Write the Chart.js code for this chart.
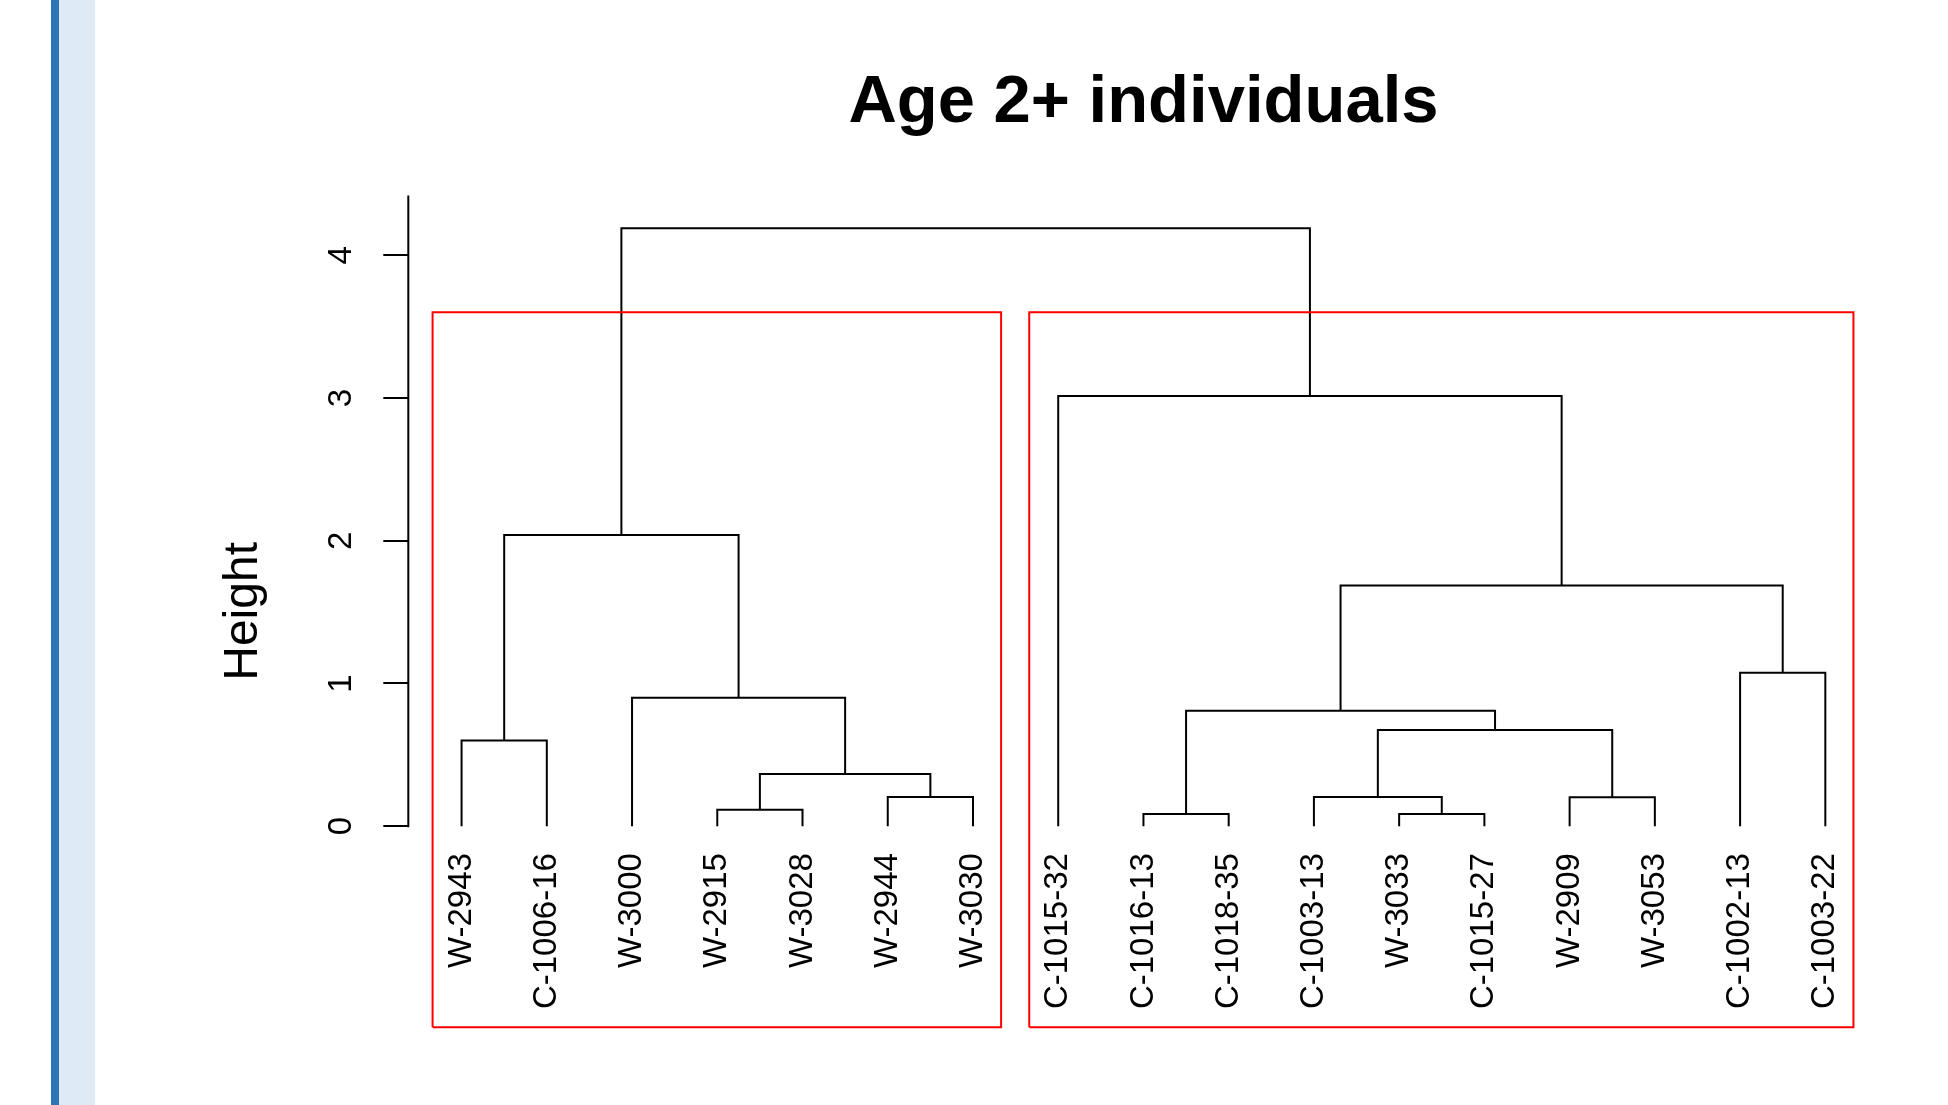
<!DOCTYPE html>
<html>
<head>
<meta charset="utf-8">
<title>Age 2+ individuals</title>
<script src="https://cdn.jsdelivr.net/npm/chart.js@4/dist/chart.umd.min.js"></script>
<style>
  html, body { margin: 0; padding: 0; background: #ffffff; }
  body { width: 1948px; height: 1105px; position: relative; overflow: hidden; }
  .bar-dark { position: absolute; left: 51px; top: 0; width: 8px; height: 1105px; background: #2e75b6; }
  .bar-light { position: absolute; left: 59px; top: 0; width: 36px; height: 1105px; background: #deebf7; }
  #chart { position: absolute; left: 0; top: 0; }
</style>
</head>
<body>
<div class="bar-dark"></div>
<div class="bar-light"></div>
<canvas id="chart" width="1948" height="1105"></canvas>
<script>
// Leaves in dendrogram order (left to right)
const leafLabels = [
  'W-2943', 'C-1006-16', 'W-3000', 'W-2915', 'W-3028', 'W-2944', 'W-3030',
  'C-1015-32', 'C-1016-13', 'C-1018-35', 'C-1003-13', 'W-3033', 'C-1015-27',
  'W-2909', 'W-3053', 'C-1002-13', 'C-1003-22'
];

// Merge steps, hclust style: negative = leaf position (1-based), positive = earlier merge step
const mergePairs = [
  [-12, -13], [-9, -10], [-4, -5], [-6, -7], [-11, 1], [-14, -15], [3, 4], [-1, -2],
  [5, 6], [2, 9], [-3, 7], [-16, -17], [10, 12], [8, 11], [-8, 13], [14, 15]
];
const mergeHeights = [
  0.085, 0.085, 0.114, 0.205, 0.205, 0.203, 0.366, 0.601,
  0.674, 0.808, 0.900, 1.075, 1.687, 2.040, 3.015, 4.190
];

// Two clusters boxed by the cut (first leaf, last leaf)
const clusterRanges = [[1, 7], [8, 17]];

// Height axis
const yTickValues = [0, 1, 2, 3, 4];
const yTickLabels = ['0', '1', '2', '3', '4'];
const yMin = -1.41;
const yMax = 4.42;
const xMin = 0.375;
const xMax = 17.625;

const FONT = '"Liberation Sans", Arial, Helvetica, sans-serif';

// Node positions: leaves sit at their order index, merges at the midpoint of their children
function nodeOf(ref, nodes) {
  return ref < 0 ? { x: -ref, h: 0 } : nodes[ref - 1];
}
const mergeNodes = [];
const branchSets = mergePairs.map((pair, k) => {
  const a = nodeOf(pair[0], mergeNodes);
  const b = nodeOf(pair[1], mergeNodes);
  const h = mergeHeights[k];
  mergeNodes.push({ x: (a.x + b.x) / 2, h: h });
  return {
    data: [{ x: a.x, y: a.h }, { x: a.x, y: h }, { x: b.x, y: h }, { x: b.x, y: b.h }],
    showLine: true,
    borderColor: '#000000',
    borderWidth: 2,
    borderJoinStyle: 'miter',
    borderCapStyle: 'butt',
    pointRadius: 0,
    fill: false,
    tension: 0,
    order: 1
  };
});

// Cut height between the last two merges
const sortedH = mergeHeights.slice().sort((p, q) => p - q);
const cutHeight = (sortedH[sortedH.length - 1] + sortedH[sortedH.length - 2]) / 2;
const boxSets = clusterRanges.map(([first, last]) => {
  const left = first - 1 + 0.66;
  const right = last + 0.33;
  return {
    data: [
      { x: left, y: yMin }, { x: left, y: cutHeight }, { x: right, y: cutHeight },
      { x: right, y: yMin }, { x: left, y: yMin }
    ],
    showLine: true,
    borderColor: '#ff0000',
    borderWidth: 2,
    borderJoinStyle: 'miter',
    pointRadius: 0,
    fill: false,
    tension: 0,
    clip: false,
    order: 0
  };
});

// Vertical axis line running from the first tick up to the top of the plot
const axisLine = {
  id: 'axisLine',
  afterDraw(chart) {
    const ys = chart.scales.y;
    const x = chart.chartArea.left;
    const ctx = chart.ctx;
    ctx.save();
    ctx.strokeStyle = '#000000';
    ctx.lineWidth = 2;
    ctx.beginPath();
    ctx.moveTo(x, ys.getPixelForValue(yTickValues[0]) + 1);
    ctx.lineTo(x, ys.getPixelForValue(ys.max));
    ctx.stroke();
    ctx.restore();
  }
};

// Leaf labels hanging below each leaf, reading upward
const leafText = {
  id: 'leafText',
  afterDraw(chart) {
    const xs = chart.scales.x;
    const ys = chart.scales.y;
    const ctx = chart.ctx;
    const top = ys.getPixelForValue(0) + 27;
    ctx.save();
    ctx.font = '33px ' + FONT;
    ctx.fillStyle = '#000000';
    ctx.textAlign = 'right';
    ctx.textBaseline = 'middle';
    leafLabels.forEach((label, i) => {
      ctx.save();
      ctx.translate(xs.getPixelForValue(i + 1), top);
      ctx.rotate(-Math.PI / 2);
      ctx.fillText(label, 0, 0);
      ctx.restore();
    });
    ctx.restore();
  }
};

new Chart(document.getElementById('chart'), {
  type: 'scatter',
  data: { datasets: boxSets.concat(branchSets) },
  options: {
    responsive: false,
    animation: false,
    devicePixelRatio: 1,
    events: [],
    layout: { padding: { left: 210.7, right: 69.4, top: 0, bottom: 77.7 } },
    plugins: {
      legend: { display: false },
      tooltip: { enabled: false },
      title: {
        display: true,
        fullSize: false,
        text: 'Age 2+ individuals',
        color: '#000000',
        font: { family: FONT, size: 67, weight: 'bold' },
        padding: { top: 63.3, bottom: 51.8 }
      }
    },
    scales: {
      x: {
        type: 'linear',
        min: xMin,
        max: xMax,
        display: false
      },
      y: {
        type: 'linear',
        position: 'left',
        min: yMin,
        max: yMax,
        afterBuildTicks: (scale) => { scale.ticks = yTickValues.map(v => ({ value: v })); },
        afterFit: (scale) => { scale.width = 197.6; },
        border: { display: false },
        grid: {
          display: true,
          drawOnChartArea: false,
          drawTicks: true,
          tickLength: 25,
          tickColor: '#000000',
          tickWidth: 2,
          lineWidth: 2
        },
        ticks: {
          color: '#000000',
          font: { family: FONT, size: 33 },
          padding: 32.4,
          minRotation: 90,
          maxRotation: 90,
          crossAlign: 'center',
          callback: (value) => yTickLabels[yTickValues.indexOf(value)]
        },
        title: {
          display: true,
          text: 'Height',
          color: '#000000',
          font: { family: FONT, size: 48 },
          padding: { top: 4, bottom: 0 }
        }
      }
    }
  },
  plugins: [axisLine, leafText]
});
</script>
</body>
</html>
